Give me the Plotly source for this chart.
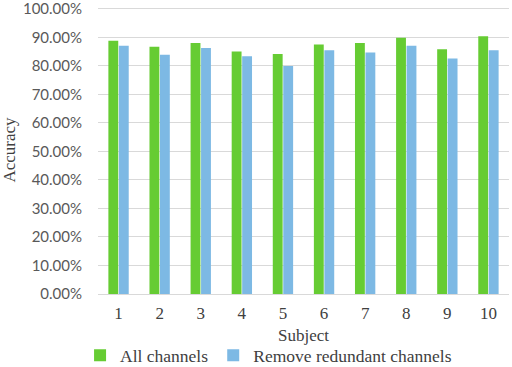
import plotly.graph_objects as go

subjects = ["1", "2", "3", "4", "5", "6", "7", "8", "9", "10"]
all_channels = [0.888, 0.867, 0.880, 0.850, 0.842, 0.875, 0.880, 0.899, 0.858, 0.904]
remove_redundant = [0.871, 0.839, 0.863, 0.834, 0.800, 0.855, 0.847, 0.871, 0.826, 0.855]
y_ticks = [i / 10 for i in range(11)]
y_tick_labels = [f"{v*100:.2f}%" for v in y_ticks]

fig = go.Figure()
fig.add_trace(go.Bar(x=subjects, y=all_channels, name="All channels",
                     marker=dict(color="#66CC33", line=dict(width=0))))
fig.add_trace(go.Bar(x=subjects, y=remove_redundant, name="Remove redundant channels",
                     marker=dict(color="#7DB9E4", line=dict(width=0))))

fig.update_layout(
    width=512, height=367,
    margin=dict(l=98, r=3, t=6, b=73, autoexpand=False),
    paper_bgcolor="white", plot_bgcolor="white",
    barmode="group", bargap=0.49, bargroupgap=0.06,
    font=dict(family="Liberation Serif, Times New Roman, serif", color="#595959"),
    legend=dict(orientation="h", x=0.415, xanchor="center", y=-0.213, yanchor="middle",
                font=dict(size=17.5, family="Liberation Serif, Times New Roman, serif", color="#404040"),
                itemwidth=30, traceorder="normal", bgcolor="rgba(0,0,0,0)"),
    xaxis=dict(title=dict(text="Subject", font=dict(size=17, color="#404040"), standoff=6),
               tickfont=dict(size=17, family="Liberation Serif, Times New Roman, serif", color="#404040"),
               showline=True, linecolor="#d9d9d9", linewidth=1,
               ticks="outside", ticklen=4, tickcolor="rgba(0,0,0,0)", automargin=False),
    yaxis=dict(title=dict(text="Accuracy", font=dict(size=17, color="#404040"), standoff=10),
               range=[0, 1.01], tickvals=y_ticks, ticktext=y_tick_labels,
               tickfont=dict(size=15, family="Lato", color="#595959"),
               ticklabeloverflow="allow",
               showgrid=True, gridcolor="#d9d9d9", gridwidth=1, zeroline=False,
               ticks="outside", ticklen=12, tickcolor="rgba(0,0,0,0)", automargin=False),
)
fig.write_html("out.html", post_script="document.body.style.margin='0';",
               config={"displayModeBar": False})
